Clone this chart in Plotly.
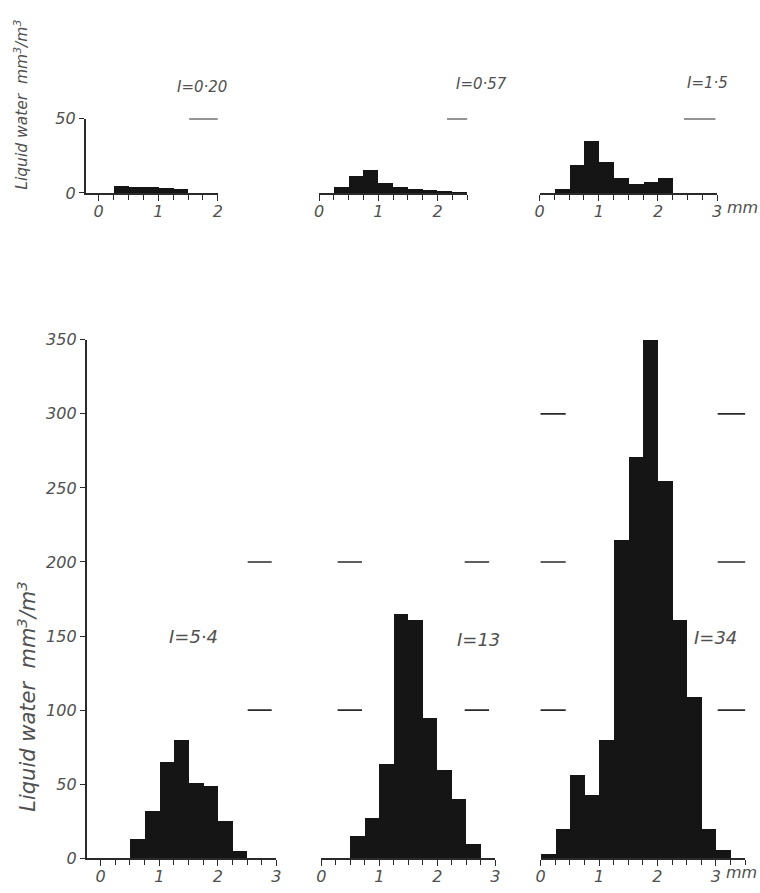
import plotly.graph_objects as go

W, H = 760, 893

# ---------------- data ----------------
BIN_WIDTH = 0.25  # mm

TL_BINS = [0.25, 0.5, 0.75, 1.0, 1.25]
TL_VALUES = [5, 4.6, 4, 3.3, 2.9]

TM_BINS = [0.25, 0.5, 0.75, 1.0, 1.25, 1.5, 1.75, 2.0, 2.25]
TM_VALUES = [4, 12, 16, 7, 4.5, 3, 2, 1.5, 1.2]

TR_BINS = [0.25, 0.5, 0.75, 1.0, 1.25, 1.5, 1.75, 2.0]
TR_VALUES = [3, 19, 35, 21, 10.5, 6, 7.5, 10.5]

BL_BINS = [0.5, 0.75, 1.0, 1.25, 1.5, 1.75, 2.0, 2.25]
BL_VALUES = [13, 32, 65, 80, 51, 49, 25, 5]

BM_BINS = [0.5, 0.75, 1.0, 1.25, 1.5, 1.75, 2.0, 2.25, 2.5]
BM_VALUES = [15, 27, 64, 165, 161, 95, 60, 40, 10]

BR_BINS = [0.0, 0.25, 0.5, 0.75, 1.0, 1.25, 1.5, 1.75, 2.0, 2.25, 2.5, 2.75, 3.0]
BR_VALUES = [3, 20, 56, 43, 80, 215, 271, 350, 255, 161, 109, 20, 6]

INTENSITY_LABELS = ["I=0·20", "I=0·57", "I=1·5", "I=5·4", "I=13", "I=34"]

TOP_Y_TICKS = [0, 50]
BOTTOM_Y_TICKS = [0, 50, 100, 150, 200, 250, 300, 350]
X_TICKS_2 = [0, 1, 2]
X_TICKS_3 = [0, 1, 2, 3]
Y_TITLE = "Liquid water  mm<sup>3</sup>/m<sup>3</sup>"
UNIT = "mm"

# ---------------- styling ----------------
INK = "#151515"
TEXT = "#505050"
AXIS = "#2a2a2a"
FONT = "DejaVu Sans"

panels = [
    dict(bins=TL_BINS, vals=TL_VALUES, label=INTENSITY_LABELS[0],
         xr=[-0.22, 2.0], px=(81.7, 215.6), yr=[0, 50], py=(188, 112),
         yshow=True, yt=TOP_Y_TICKS, xt=X_TICKS_2, lab=(1.74, 71, 15),
         dashes=[(1.52, 2.02, 50)], mm=None),
    dict(bins=TM_BINS, vals=TM_VALUES, label=INTENSITY_LABELS[1],
         xr=[0, 2.5], px=(318.3, 468.3), yr=[0, 50], py=(188, 112),
         yshow=False, yt=TOP_Y_TICKS, xt=X_TICKS_2, lab=(2.74, 73, 15),
         dashes=[(2.16, 2.66, 50)], mm=None),
    dict(bins=TR_BINS, vals=TR_VALUES, label=INTENSITY_LABELS[2],
         xr=[0, 3.0], px=(541.7, 721.7), yr=[0, 50], py=(188, 112),
         yshow=False, yt=TOP_Y_TICKS, xt=X_TICKS_3, lab=(2.84, 74, 15),
         dashes=[(2.44, 2.97, 50)], mm=(3.13, -10)),
    dict(bins=BL_BINS, vals=BL_VALUES, label=INTENSITY_LABELS[3],
         xr=[-0.24, 3.0], px=(82.7, 275.0), yr=[0, 350], py=(867.7, 338),
         yshow=True, yt=BOTTOM_Y_TICKS, xt=X_TICKS_3, lab=(1.59, 150, 18),
         dashes=[(2.51, 2.92, 100), (2.51, 2.92, 200)], mm=None),
    dict(bins=BM_BINS, vals=BM_VALUES, label=INTENSITY_LABELS[4],
         xr=[0, 3.0], px=(320.6, 497.0), yr=[0, 350], py=(867.7, 338),
         yshow=False, yt=BOTTOM_Y_TICKS, xt=X_TICKS_3, lab=(2.7, 148, 18),
         dashes=[(0.28, 0.70, 100), (0.28, 0.70, 200),
                 (2.47, 2.89, 100), (2.47, 2.89, 200)], mm=None),
    dict(bins=BR_BINS, vals=BR_VALUES, label=INTENSITY_LABELS[5],
         xr=[0, 3.5], px=(542.7, 750.0), yr=[0, 350], py=(867.7, 338),
         yshow=False, yt=BOTTOM_Y_TICKS, xt=X_TICKS_3, lab=(2.99, 149, 18),
         dashes=[(-0.08, 0.43, 100), (-0.08, 0.43, 200), (-0.08, 0.43, 300),
                 (3.03, 3.53, 100), (3.03, 3.53, 200), (3.03, 3.53, 300)],
         mm=(3.13, -9.5)),
]

fig = go.Figure()
layout = dict(
    width=W, height=H, margin=dict(l=0, r=0, t=0, b=0),
    paper_bgcolor="white", plot_bgcolor="rgba(0,0,0,0)",
    showlegend=False, bargap=0,
    font=dict(family=FONT, color=TEXT, style="italic"),
)
annotations = []


def to_dom(v, r):
    return (v - r[0]) / (r[1] - r[0])


for i, p in enumerate(panels):
    n = "" if i == 0 else str(i + 1)
    xa, ya = "x" + n, "y" + n
    fig.add_trace(go.Bar(
        x=p["bins"], y=p["vals"], width=BIN_WIDTH, offset=0,
        marker=dict(color=INK, line=dict(width=0)),
        xaxis=xa, yaxis=ya, hoverinfo="x+y",
    ))
    # scale reference dashes
    dx, dy = [], []
    for x0, x1, yv in p["dashes"]:
        dx += [x0, x1, None]
        dy += [yv, yv, None]
    fig.add_trace(go.Scatter(
        x=dx, y=dy, mode="lines", line=dict(color=AXIS, width=1.6),
        xaxis=xa, yaxis=ya, cliponaxis=False, hoverinfo="skip",
    ))
    lx, ly, ls = p["lab"]
    annotations.append(dict(
        text=p["label"], xref=xa + " domain", yref=ya + " domain",
        x=to_dom(lx, p["xr"]), y=to_dom(ly, p["yr"]),
        xanchor="center", yanchor="middle", showarrow=False,
        font=dict(family=FONT, size=ls, color=TEXT, style="italic"),
    ))
    if p["mm"]:
        mx, my = p["mm"]
        annotations.append(dict(
            text=UNIT, xref=xa + " domain", yref=ya + " domain",
            x=to_dom(mx, p["xr"]), y=to_dom(my, p["yr"]),
            xanchor="left", yanchor="middle", showarrow=False,
            font=dict(family=FONT, size=16, color=TEXT, style="italic"),
        ))

    layout["xaxis" + n] = dict(
        domain=[p["px"][0] / W, p["px"][1] / W], range=p["xr"],
        anchor=ya, showgrid=False, zeroline=False,
        showline=True, linecolor=AXIS, linewidth=1.6,
        ticks="outside", ticklen=6, tickwidth=1.4, tickcolor=AXIS,
        tickvals=p["xt"], ticktext=[str(v) for v in p["xt"]],
        ticklabelstandoff=-3,
        minor=dict(tick0=0, dtick=BIN_WIDTH, ticks="outside", ticklen=5,
                   tickwidth=1.4, tickcolor=AXIS, showgrid=False),
        tickfont=dict(family=FONT, size=16, color=TEXT, style="italic"),
        fixedrange=True,
    )
    yd = [(H - p["py"][0]) / H, (H - p["py"][1]) / H]
    layout["yaxis" + n] = dict(
        domain=yd, range=p["yr"], anchor=xa, showgrid=False, zeroline=False,
        visible=p["yshow"], showline=p["yshow"], linecolor=AXIS, linewidth=1.6,
        ticks="outside", ticklen=5, tickwidth=1.4, tickcolor=AXIS,
        tickvals=p["yt"], ticktext=[str(v) for v in p["yt"]],
        tickfont=dict(family=FONT, size=16, color=TEXT, style="italic"),
        fixedrange=True,
    )

annotations += [
    dict(text=Y_TITLE, xref="paper", yref="paper", x=17 / W, y=(H - 98) / H,
         xanchor="center", yanchor="middle", showarrow=False, textangle=-90,
         font=dict(family=FONT, size=15.5, color=TEXT, style="italic")),
    dict(text=Y_TITLE, xref="paper", yref="paper", x=22 / W, y=(H - 703) / H,
         xanchor="center", yanchor="middle", showarrow=False, textangle=-90,
         font=dict(family=FONT, size=21, color=TEXT, style="italic")),
]
layout["annotations"] = annotations

fig.update_layout(**layout)
fig.write_html(
    "out.html",
    config={"displayModeBar": False},
    post_script="document.body.style.margin='0';document.body.style.overflow='hidden';",
)
